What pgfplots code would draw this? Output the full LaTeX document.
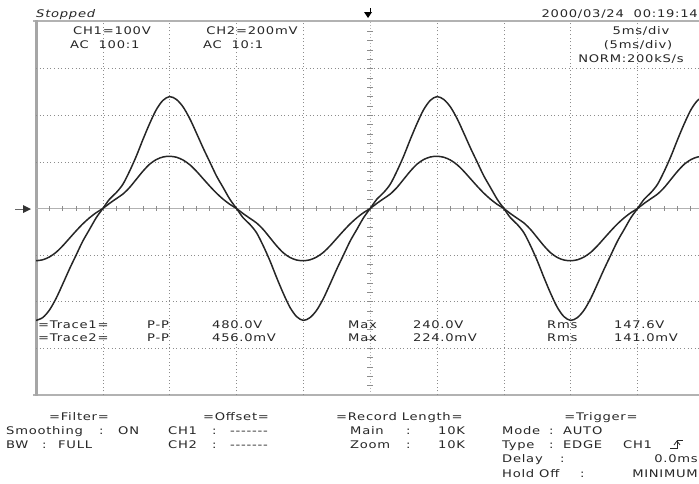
\documentclass[border=0pt]{standalone}
\usepackage{fontspec}
\setmainfont{DejaVu Sans}[FakeStretch=1.25,LetterSpace=7]
\usepackage{pgfplots}
\pgfplotsset{compat=1.18}
\usepackage{pgfplotstable}

% t in ms, v1 in V (trace 1), v2 in mV (trace 2)
\pgfplotstableread{
t v1 v2
0 -240 -224
0.5 -234 -220
1 -218 -208
1.5 -193 -188
2 -162 -160
2.5 -130 -128
3 -100 -96
3.5 -70 -66
4 -45 -40
4.5 -20 -18
5 0 0
5.5 20 22
6 34 42
6.5 52 62
7 80 90
7.5 112 125
8 148 160
8.5 182 190
9 212 210
9.5 232 221
10 240 224
10.5 234 220
11 218 208
11.5 193 188
12 162 160
12.5 130 128
13 100 96
13.5 70 66
14 45 40
14.5 20 18
15 0 0
15.5 -20 -22
16 -34 -42
16.5 -52 -62
17 -80 -90
17.5 -112 -125
18 -148 -160
18.5 -182 -190
19 -212 -210
19.5 -232 -221
20 -240 -224
20.5 -234 -220
21 -218 -208
21.5 -193 -188
22 -162 -160
22.5 -130 -128
23 -100 -96
23.5 -70 -66
24 -45 -40
24.5 -20 -18
25 0 0
25.5 20 22
26 34 42
26.5 52 62
27 80 90
27.5 112 125
28 148 160
28.5 182 190
29 212 210
29.5 232 221
30 240 224
30.5 234 220
31 218 208
31.5 193 188
32 162 160
32.5 130 128
33 100 96
33.5 70 66
34 45 40
34.5 20 18
35 0 0
35.5 -20 -22
36 -34 -42
36.5 -52 -62
37 -80 -90
37.5 -112 -125
38 -148 -160
38.5 -182 -190
39 -212 -210
39.5 -232 -221
40 -240 -224
40.5 -234 -220
41 -218 -208
41.5 -193 -188
42 -162 -160
42.5 -130 -128
43 -100 -96
43.5 -70 -66
44 -45 -40
44.5 -20 -18
45 0 0
45.5 20 22
46 34 42
46.5 52 62
47 80 90
47.5 112 125
48 148 160
48.5 182 190
49 212 210
49.5 232 221
50 240 224
}\wavedata

\begin{document}
\begin{tikzpicture}[x=1pt,y=-1pt,
  every node/.style={inner sep=0pt,font=\fontsize{10.5}{12}\selectfont,text=black!85}]
\path[use as bounding box] (0,0) rectangle (699,483);

% screen frame
\draw[black!30,line width=2.2pt] (33,21) -- (705,21);
\draw[black!30,line width=2pt] (33,395) -- (705,395);
\draw[black!35,line width=3pt] (36,20) -- (36,396);

% centre cross with fine divisions
\draw[black!30,line width=0.7pt] (36,208.5) -- (705,208.5);
\draw[black!30,line width=0.6pt,dash pattern=on 1pt off 2pt] (370,22) -- (370,394);
\foreach \i in {1,...,49} \draw[black!45,line width=0.6pt] ({36+\i*13.36},206) -- ++(0,5);
\foreach \i in {1,...,39} \draw[black!45,line width=0.6pt] (367,{22+\i*9.325}) -- ++(6,0);

\coordinate (scr) at (36,395);
\begin{scope}[x=1cm,y=1cm]
\begin{axis}[at={(scr)},anchor=south west,scale only axis,
    width=663pt,height=373pt,
    xmin=0,xmax=49.6,ymin=-4,ymax=4,
    axis line style={draw=none},
    xtick={5,10,15,20,30,35,40,45},ytick={-3,-2,-1,1,2,3},
    xticklabels={},yticklabels={},tick style={draw=none},
    grid=major,
    major grid style={black!45,line width=0.6pt,dash pattern=on 1pt off 2.6pt}]
\addplot[black!85,line width=1.5pt,smooth] table[x=t,y expr=\thisrow{v1}/100] {\wavedata};
\addplot[black!85,line width=1.5pt,smooth] table[x=t,y expr=\thisrow{v2}/200] {\wavedata};
\end{axis}
\end{scope}

% markers
\fill[black] (364,12) -- (372,12) -- (368,18) -- cycle;
\draw[black,line width=1pt] (370,8) -- (370,13);
\fill[black!80] (23,205) -- (31,209) -- (23,213) -- cycle;
\draw[black!60,line width=0.8pt] (15,209) -- (23,209);

% header
\node[anchor=base west] at (36,17) {\itshape Stopped};
\node[anchor=base] at (112,34) {CH1=100V};
\node[anchor=base west] at (70,48) {AC\ \ 100:1};
\node[anchor=base] at (252,34) {CH2=200mV};
\node[anchor=base west] at (203,48) {AC\ \ 10:1};
\node[anchor=base east] at (698,17) {2000/03/24\ \ 00:19:14};
\node[anchor=base] at (641,34) {5ms/div};
\node[anchor=base] at (638,48) {(5ms/div)};
\node[anchor=base] at (631,62) {NORM:200kS/s};

% measurements
\node[anchor=base west] at (38,328) {=Trace1=};
\node[anchor=base west] at (147,328) {P-P};
\node[anchor=base west] at (212,328) {480.0V};
\node[anchor=base west] at (348,328) {Max};
\node[anchor=base west] at (413,328) {240.0V};
\node[anchor=base west] at (547,328) {Rms};
\node[anchor=base west] at (614,328) {147.6V};
\node[anchor=base west] at (38,341) {=Trace2=};
\node[anchor=base west] at (147,341) {P-P};
\node[anchor=base west] at (212,341) {456.0mV};
\node[anchor=base west] at (348,341) {Max};
\node[anchor=base west] at (413,341) {224.0mV};
\node[anchor=base west] at (547,341) {Rms};
\node[anchor=base west] at (614,341) {141.0mV};

% settings panel
\node[anchor=base] at (79,420) {=Filter=};
\node[anchor=base west] at (6,434) {Smoothing};
\node[anchor=base west] at (99,434) {:};
\node[anchor=base west] at (118,434) {ON};
\node[anchor=base west] at (6,448) {BW};
\node[anchor=base west] at (42,448) {:};
\node[anchor=base west] at (58,448) {FULL};

\node[anchor=base] at (236,420) {=Offset=};
\node[anchor=base west] at (168,434) {CH1};
\node[anchor=base west] at (212,434) {:};
\node[anchor=base west] at (230,434) {-{}-{}-{}-{}-{}-{}-};
\node[anchor=base west] at (168,448) {CH2};
\node[anchor=base west] at (212,448) {:};
\node[anchor=base west] at (230,448) {-{}-{}-{}-{}-{}-{}-};

\node[anchor=base west] at (336,420) {=Record Length=};
\node[anchor=base west] at (350,434) {Main};
\node[anchor=base west] at (406,434) {:};
\node[anchor=base west] at (438,434) {10K};
\node[anchor=base west] at (350,448) {Zoom};
\node[anchor=base west] at (406,448) {:};
\node[anchor=base west] at (438,448) {10K};

\node[anchor=base] at (601,420) {=Trigger=};
\node[anchor=base west] at (502,434) {Mode};
\node[anchor=base west] at (549,434) {:};
\node[anchor=base west] at (563,434) {AUTO};
\node[anchor=base west] at (502,448) {Type};
\node[anchor=base west] at (549,448) {:};
\node[anchor=base west] at (563,448) {EDGE};
\node[anchor=base west] at (623,448) {CH1};
\draw[black!85,line width=0.8pt] (670,448) -- (677,448) -- (677,440) -- (683,440);
\draw[black!85,line width=0.8pt] (674,445) -- (677,441) -- (680,445);
\node[anchor=base west] at (502,462) {Delay};
\node[anchor=base west] at (560,462) {:};
\node[anchor=base east] at (698,462) {0.0ms};
\node[anchor=base west] at (502,477) {Hold Off};
\node[anchor=base west] at (580,477) {:};
\node[anchor=base east] at (698,477) {MINIMUM};
\end{tikzpicture}
\end{document}
